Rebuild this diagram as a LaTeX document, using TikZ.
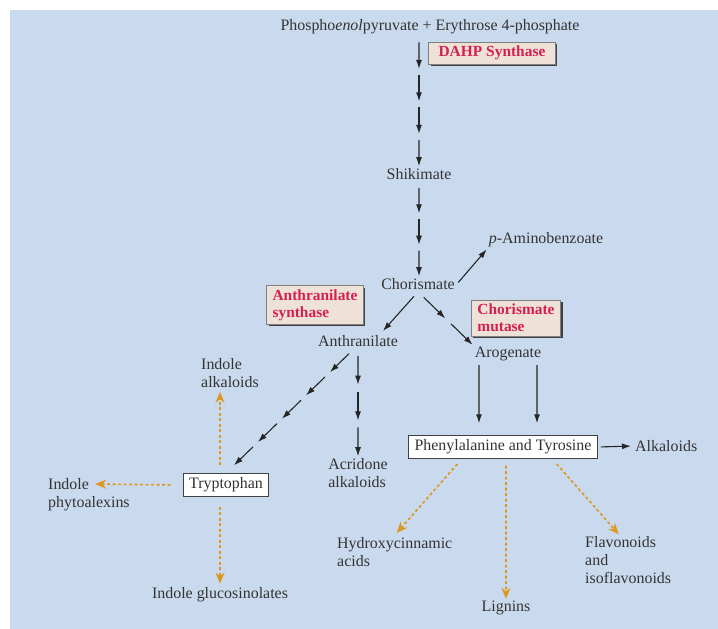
\documentclass[tikz,border=0pt]{standalone}
\usepackage{fontspec}
\setmainfont{Liberation Serif}
\usetikzlibrary{calc, arrows.meta, shadows}

\definecolor{bgblue}{RGB}{202,218,238}
\definecolor{enzfill}{RGB}{238,226,216}
\definecolor{enzred}{RGB}{214,30,80}
\definecolor{dotorange}{RGB}{222,150,30}

% broken arrow: #2 -> #3 in #4 pieces, gap #1
\newcommand{\segarrow}[4][6bp]{%
  \foreach \k in {1,...,#4}
    \draw[arr, shorten <=#1] ($(#2)!{(\k-1)/#4}!(#3)$) -- ($(#2)!{\k/#4}!(#3)$);
}

\begin{document}
\begin{tikzpicture}[x=1bp, y=-1bp,
    txt/.style={font=\fontsize{16}{18}\selectfont, text=black!80, inner sep=2bp},
    ltxt/.style={txt, align=left},
    enzyme/.style={draw=black!50, fill=enzfill, text=enzred,
      font=\bfseries\fontsize{15.5}{17}\selectfont, align=left,
      inner xsep=6bp, inner ysep=4bp,
      drop shadow={shadow xshift=2bp, shadow yshift=-2bp, fill=black!75, opacity=1}},
    whitebox/.style={txt, draw=black!75, line width=0.9bp, fill=white, inner xsep=6bp, inner ysep=4bp},
    arr/.style={draw=black!85, line width=1.1bp, -{Latex[length=9bp, width=6bp]}},
    dotarr/.style={draw=dotorange, line width=1.6bp, dash pattern=on 3bp off 2.5bp,
      -{Stealth[length=11bp, width=9bp]}}]

    \useasboundingbox (0,0) rectangle (718,629);
    \fill[bgblue] (10,10) rectangle (718,629);

    % Draw nodes
    \node[txt] (pep) at (430,27) {Phospho\textit{enol}pyruvate + Erythrose 4-phosphate};
    \node[enzyme, inner xsep=10bp] (dahp) at (492,53) {DAHP Synthase};
    \node[txt] (shik) at (419,174) {Shikimate};
    \node[txt] (chor) at (418,284) {Chorismate};
    \node[txt] (pab) at (546,240) {\textit{p}-Aminobenzoate};
    \node[enzyme] (asyn) at (315,305) {Anthranilate\\synthase};
    \node[enzyme] (cmut) at (516,318) {Chorismate\\mutase};
    \node[txt] (anth) at (358,341) {Anthranilate};
    \node[txt] (arog) at (508,354) {Arogenate};
    \node[whitebox] (tryp) at (226,485) {Tryptophan};
    \node[ltxt] (acr) at (358,473) {Acridone\\alkaloids};
    \node[ltxt, anchor=west] (ialk) at (199,373) {Indole\\alkaloids};
    \node[txt, anchor=west] (iphy) at (46,484) {Indole};
    \node[txt, anchor=base west] (iphyb) at ([yshift=-18bp]iphy.base west) {phytoalexins};
    \node[txt] (gluc) at (220,595) {Indole glucosinolates};
    \node[whitebox] (phe) at (503,447) {Phenylalanine and Tyrosine};
    \node[txt, anchor=west] (alk) at (633,446) {Alkaloids};
    \node[ltxt, anchor=west] (hyd) at (335,552) {Hydroxycinnamic\\acids};
    \node[txt] (lig) at (506,608) {Lignins};
    \node[ltxt, anchor=west] (flav) at (583,560) {Flavonoids\\and\\isoflavonoids};

    % Draw arrows
    \segarrow{pep.south -| shik}{shik.north}{4}
    \segarrow{shik.south}{shik.south |- chor.north}{3}
    \draw[arr, shorten <=2bp] (chor.east) -- (pab.south west);
    \draw[arr, shorten <=6bp, shorten >=3bp] (chor.south) -- ([xshift=23bp]anth.north);
    \segarrow[8bp]{chor.south}{arog.north west}{2}

    \coordinate (anthout) at ([xshift=-4bp]anth.south);
    \coordinate (trypin) at ([xshift=8bp, yshift=8bp]tryp.north);
    \segarrow[7bp]{anthout}{trypin}{5}
    \segarrow[7bp]{anth.south}{anth.south |- acr.north}{3}

    \draw[arr, shorten <=2bp, shorten >=12bp] ([xshift=-29bp]arog.south) -- ([xshift=-24bp]phe.north);
    \draw[arr, shorten <=2bp, shorten >=12bp] ([xshift=29bp]arog.south) -- ([xshift=34bp]phe.north);
    \draw[arr, shorten <=3bp, shorten >=2bp] (phe.east) -- (alk.west);

    % dotted side routes
    \draw[dotarr, shorten <=8bp, shorten >=2bp] (gluc.north |- tryp.north) -- (gluc.north |- ialk.south);
    \draw[dotarr, shorten <=10bp, shorten >=2bp] (gluc.north |- tryp.south) -- (gluc.north);
    \draw[dotarr, shorten <=12bp, shorten >=4bp] (tryp.west) -- (iphy.east);
    \draw[dotarr, shorten <=7bp, shorten >=3bp] ([xshift=-41bp]phe.south) -- (hyd.north);
    \draw[dotarr, shorten <=7bp] ([xshift=3bp]phe.south) -- (lig.north);
    \draw[dotarr, shorten <=7bp] ([xshift=49bp]phe.south) -- (flav.110);

\end{tikzpicture}
\end{document}
